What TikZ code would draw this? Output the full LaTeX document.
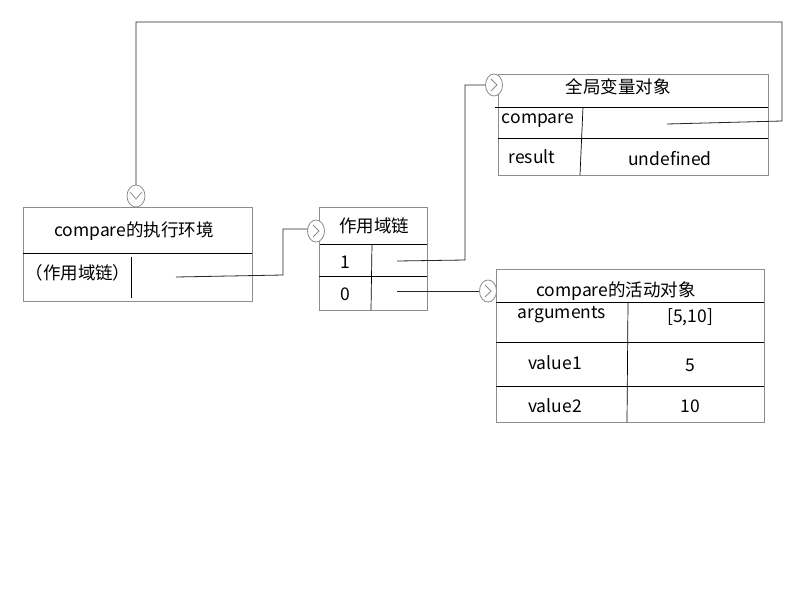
\documentclass[tikz,border=0pt]{standalone}
\usepackage{fontspec}
\setmainfont{Noto Sans CJK SC}
\usetikzlibrary{shapes.geometric}
\begin{document}
\begin{tikzpicture}[x=1pt,y=-1pt,
  box/.style={draw=gray!90, line width=0.8pt, anchor=north west, inner sep=0},
  inner/.style={draw=black, line width=0.7pt},
  conn/.style={draw=black!85, line width=0.8pt},
  txt/.style={font=\fontsize{17.5}{20}\selectfont, inner sep=0},
  termR/.style={ellipse, draw=gray!90, line width=0.8pt, fill=white, minimum width=17pt, minimum height=22pt, inner sep=0,
    path picture={\draw[gray!90, line width=0.8pt] ([xshift=-3pt,yshift=6pt]path picture bounding box.center) -- ++(6,6) -- ++(-6,6);}},
  termD/.style={ellipse, draw=gray!90, line width=0.8pt, fill=white, minimum width=18pt, minimum height=22pt, inner sep=0,
    path picture={\draw[gray!90, line width=0.8pt] ([xshift=-6pt,yshift=4pt]path picture bounding box.center) -- ++(6,7) -- ++(6,-7);}}
]
\useasboundingbox (0,0) rectangle (798,600);
\fill[white] (0,0) rectangle (798,600);

% Box 1
\node[box, minimum width=229pt, minimum height=94pt] (b1) at (23,207) {};
\draw[inner] (23,253) -- (252,253);
\draw[inner] (131,257) -- (131,298);
\node[txt] (b1t) at (134,231) {compare的执行环境};
\node[txt] (b1r) at (78,273) {（作用域链）};

% Box 2
\node[box, minimum width=108pt, minimum height=103pt] (b2) at (319,207) {};
\draw[inner] (320,244) -- (427,244);
\draw[inner] (319,276) -- (427,276);
\draw[inner] (372,244) -- (371,310);
\node[txt] (b2t) at (374,226) {作用域链};
\node[txt] (b2a) at (345,262) {1};
\node[txt] (b2b) at (345,294) {0};

% Box 3
\node[box, minimum width=270pt, minimum height=101pt] (b3) at (498,74) {};
\draw[inner] (495,107) -- (768,107);
\draw[inner] (498,138) -- (768,138);
\draw[inner] (583,107) -- (580,175);
\node[txt] (b3t) at (618,87) {全局变量对象};
\node[txt] (b3a) at (538,121) {compare};
\node[txt] (b3b) at (532,157) {result};
\node[txt] (b3c) at (670,159) {undefined};

% Box 4
\node[box, minimum width=268pt, minimum height=153pt] (b4) at (496,269) {};
\draw[inner] (496,302) -- (764,302);
\draw[inner] (496,342) -- (764,342);
\draw[inner] (496,386) -- (764,386);
\draw[inner] (628,302) -- (627,422);
\node[txt] (b4t) at (616,291) {compare的活动对象};
\node[txt] (b4a) at (562,315) {arguments};
\node[txt] (b4b) at (690,317) {[5,10]};
\node[txt] (b4c) at (555,363) {value1};
\node[txt] (b4d) at (690,365) {5};
\node[txt] (b4e) at (555,406) {value2};
\node[txt] (b4f) at (690,406) {10};

% Connector start points
\coordinate (s1) at (176,277);
\coordinate (s2) at (397,261);
\coordinate (s3) at (397,291);
\coordinate (s4) at (667,124);

% Connectors
\draw[conn] (s1) -- (283,275) |- (316,229);
\draw[conn] (s2) -- (465,260) |- (494,85);
\draw[conn] (s3) -- (488,291);
\draw[conn] (s4) -- (782,121) -- (782,22) -- (136,22) -- (136,195);

% Terminators
\node[termD] (t1) at (136,196) {};
\node[termR] (t2) at (316,231) {};
\node[termR] (t3) at (494,85) {};
\node[termR] (t4) at (488,291) {};
\end{tikzpicture}
\end{document}
